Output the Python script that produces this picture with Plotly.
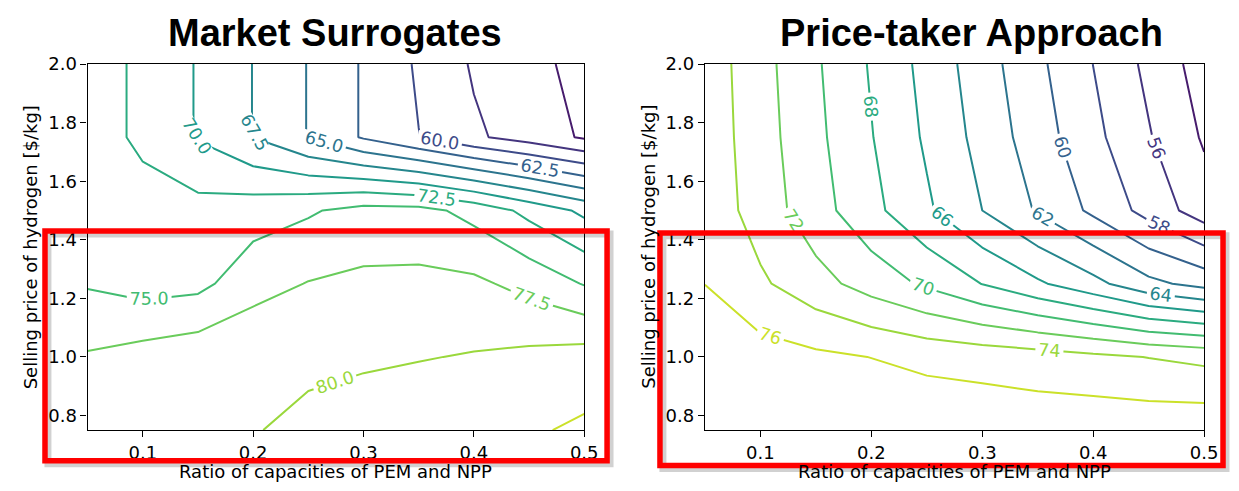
import plotly.graph_objects as go
from plotly.colors import sample_colorscale, sequential

# ---------------- data ----------------
x_ratio = [0.05, 0.10, 0.15, 0.20, 0.25, 0.30, 0.35, 0.40, 0.45, 0.50]
y_price = [0.75, 1.00, 1.25, 1.50, 1.75, 2.00]

# Market Surrogates (rows follow y_price)
z_surrogate = [
    [78.8, 79.2, 79.7, 79.82, 80.8, 81.4, 81.8, 82.0, 82.2, 82.9],
    [77.74, 78.49, 79.13, 79.7, 79.3, 79.6, 79.87, 80.16, 80.58, 81.1],
    [74.79, 74.0, 74.33, 76.5, 77.6, 78.01, 78.1, 77.99, 76.7, 74.85],
    [73.5, 73.0, 73.37, 73.9, 74.7, 75.87, 75.8, 74.2, 71.8, 69.45],
    [73.1, 72.25, 69.8, 67.45, 64.9, 62.25, 60.05, 57.9, 56.4, 54.7],
    [73.1, 72.25, 69.8, 67.45, 64.9, 62.25, 59.67, 57.22, 56.4, 53.5],
]

# Price-taker Approach (rows follow y_price)
z_pricetaker = [
    [77.9, 77.85, 77.8, 77.7, 77.6, 77.46, 77.27, 77.36, 77.35, 77.46],
    [77.3, 76.8, 76.38, 75.97, 75.45, 75.18, 74.87, 74.43, 73.95, 73.5],
    [75.98, 74.32, 72.72, 71.15, 69.65, 67.95, 66.3, 64.6, 62.5, 61.33],
    [75.35, 73.10, 70.83, 68.57, 66.31, 64.0, 61.8, 59.6, 57.3, 54.92],
    [75.25, 72.86, 70.48, 68.09, 65.70, 63.32, 60.93, 58.54, 56.16, 53.77],
    [75.17, 72.71, 70.26, 67.80, 65.35, 62.89, 60.43, 57.98, 55.52, 53.07],
]

levels_surrogate = dict(start=55.0, end=82.5, size=2.5)
levels_pricetaker = dict(start=54, end=76, size=2)

titles = ["Market Surrogates", "Price-taker Approach"]
x_label = "Ratio of capacities of PEM and NPP"
y_label = "Selling price of hydrogen [$/kg]"
x_ticks = [0.1, 0.2, 0.3, 0.4, 0.5]
y_ticks = [0.8, 1.0, 1.2, 1.4, 1.6, 1.8, 2.0]

# ---------------- styling ----------------
W, H = 1239, 491


def fx(p):
    return p / W


def fy(p):
    return 1 - p / H


# viridis sub-range (levels lie inside the colour normalisation range)
n_lv = 12
cols = sample_colorscale(sequential.Viridis, [1 / 13 + i * (11 / 13) / (n_lv - 1) for i in range(n_lv)])
cscale = [[i / (n_lv - 1), c] for i, c in enumerate(cols)]

FONT = "DejaVu Sans"
fig = go.Figure()

for z, lv, fmt, xa, ya in [
    (z_surrogate, levels_surrogate, ".1f", "x", "y"),
    (z_pricetaker, levels_pricetaker, ".0f", "x2", "y2"),
]:
    fig.add_trace(go.Contour(
        x=x_ratio, y=y_price, z=z,
        xaxis=xa, yaxis=ya,
        autocontour=False,
        contours=dict(start=lv["start"], end=lv["end"], size=lv["size"],
                      coloring="lines", showlabels=True,
                      labelfont=dict(size=17.5, family=FONT),
                      labelformat=fmt),
        colorscale=cscale,
        showscale=False,
        line=dict(width=2, smoothing=0),
        hoverinfo="skip",
    ))

axis_common = dict(
    showline=True, linecolor="black", linewidth=1.2, mirror=True,
    ticks="outside", ticklen=6, tickwidth=1.2, tickcolor="black",
    tickfont=dict(size=18, family=FONT, color="black"),
    showgrid=False, zeroline=False,
)

y_dom = [fy(428.7), fy(54.3)]
fig.update_layout(
    width=W, height=H,
    margin=dict(l=0, r=0, t=0, b=0),
    paper_bgcolor="white", plot_bgcolor="white",
    showlegend=False,
    xaxis=dict(domain=[fx(88.6), fx(590.9)], range=[0.05, 0.5], tickvals=x_ticks,
               tickformat=".1f", anchor="y", **axis_common),
    yaxis=dict(domain=y_dom, range=[0.75, 2.0], tickvals=y_ticks,
               tickformat=".1f", anchor="x", **axis_common),
    xaxis2=dict(domain=[fx(713), fx(1217.9)], range=[0.05, 0.5], tickvals=x_ticks,
                tickformat=".1f", anchor="y2", **axis_common),
    yaxis2=dict(domain=y_dom, range=[0.75, 2.0], tickvals=y_ticks,
                tickformat=".1f", anchor="x2", **axis_common),
)

annotations = []
for title, cx in zip(titles, [339, 983]):
    annotations.append(dict(
        text="<b>%s</b>" % title, x=fx(cx), y=1.0, xref="paper", yref="paper",
        showarrow=False, xanchor="center", yanchor="top", borderpad=0,
        font=dict(size=38, family="Liberation Sans, Arial", color="black")))
for cx in [339.7, 965.5]:
    annotations.append(dict(
        text=x_label, x=fx(cx), y=fy(471), xref="paper", yref="paper",
        showarrow=False, xanchor="center", yanchor="middle",
        font=dict(size=18, family=FONT, color="black")))
for cx in [30.6, 655]:
    annotations.append(dict(
        text=y_label, x=fx(cx), y=fy(241.5), xref="paper", yref="paper",
        showarrow=False, xanchor="center", yanchor="middle", textangle=-90,
        font=dict(size=18, family=FONT, color="black")))
fig.update_layout(annotations=annotations)

shapes = []
for (x0, y0, x1, y1) in [(45.5, 225, 614, 460), (667.5, 227, 1237, 465)]:
    # soft shadow
    shapes.append(dict(type="rect", xref="paper", yref="paper", layer="above",
                       x0=fx(x0 + 3), x1=fx(x1 + 3), y0=fy(y1 + 3), y1=fy(y0 + 3),
                       line=dict(color="rgba(0,0,0,0.18)", width=7)))
    shapes.append(dict(type="rect", xref="paper", yref="paper", layer="above",
                       x0=fx(x0), x1=fx(x1), y0=fy(y1), y1=fy(y0),
                       line=dict(color="#FF0000", width=5.5)))
fig.update_layout(shapes=shapes)

fig.write_html("out.html")
